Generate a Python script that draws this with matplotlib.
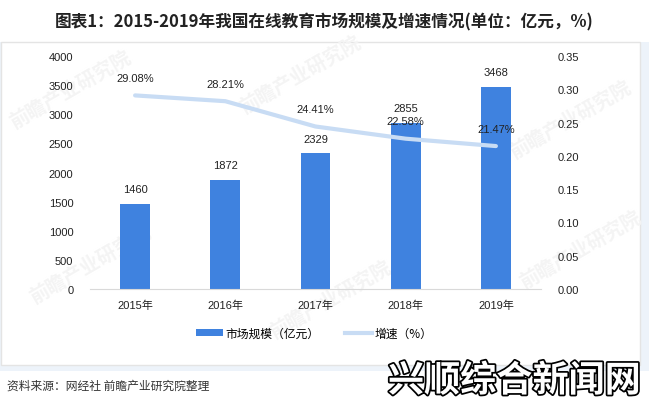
import matplotlib
matplotlib.use("Agg")
import matplotlib.pyplot as plt
from matplotlib.patches import Rectangle, Patch
from matplotlib.lines import Line2D
import matplotlib.patheffects as pe

years = ["2015年", "2016年", "2017年", "2018年", "2019年"]
market_size = [1460, 1872, 2329, 2855, 3468]
growth = [0.2908, 0.2821, 0.2441, 0.2258, 0.2147]
growth_labels = ["29.08%", "28.21%", "24.41%", "22.58%", "21.47%"]
left_ticks = [0, 500, 1000, 1500, 2000, 2500, 3000, 3500, 4000]
right_ticks = [0.00, 0.05, 0.10, 0.15, 0.20, 0.25, 0.30, 0.35]

title = "图表1：2015-2019年我国在线教育市场规模及增速情况(单位：亿元，%)"
source = "资料来源：网经社 前瞻产业研究院整理"
overlay = "兴顺综合新闻网"
bar_name = "市场规模（亿元）"
line_name = "增速（%）"
wm_text = "前瞻产业研究院"

FONT = ["Liberation Sans", "Noto Sans CJK SC", "DejaVu Sans"]
CJK = ["Noto Sans CJK SC", "DejaVu Sans"]
plt.rcParams["font.family"] = FONT

W, H = 649, 406
fig = plt.figure(figsize=(W / 100, H / 100), dpi=100)
fig.patch.set_facecolor("white")

def fx(px):
    return px / W

def fy(py):
    return 1 - py / H

# background bands and panel
fig.patches.append(Rectangle((0, fy(372)), 1, fy(43) - fy(372), transform=fig.transFigure,
                             facecolor="#edf3fa", edgecolor="none", zorder=0))
fig.patches.append(Rectangle((fx(1), fy(366)), fx(640) - fx(1), fy(43) - fy(366),
                             transform=fig.transFigure, facecolor="white",
                             edgecolor="#e4e4e4", linewidth=1, zorder=0.5))

# faint diagonal watermarks
for (x, y) in [(70, 90), (300, 75), (90, 265), (330, 300), (570, 120), (580, 250)]:
    fig.text(fx(x), fy(y), wm_text, family=CJK, fontsize=14, color="#f4f4f4",
             rotation=30, ha="center", va="center", fontweight="bold", zorder=0.6)

ax = fig.add_axes([fx(90), fy(290), fx(541) - fx(90), fy(57) - fy(290)])
ax.set_zorder(2)
ax.set_facecolor("none")
x = list(range(len(years)))
ax.bar(x, market_size, width=0.33, color="#3f82df", zorder=2)
ax.set_xlim(-0.5, len(years) - 0.5)
ax.set_ylim(0, 4000)
ax.set_yticks(left_ticks)
ax.set_yticklabels([str(t) for t in left_ticks])
ax.set_xticks(x)
ax.set_xticklabels(years)
for s in ["top", "left", "right"]:
    ax.spines[s].set_visible(False)
ax.spines["bottom"].set_color("#d9d9d9")
ax.tick_params(axis="both", length=0, labelsize=8, colors="#222222")
ax.tick_params(axis="y", pad=12)
ax.tick_params(axis="x", pad=8)
for xi, v in zip(x, market_size):
    ax.annotate(str(v), (xi, v), xytext=(0, 7), textcoords="offset points",
                ha="center", va="bottom", fontsize=8, color="#222222")

ax2 = ax.twinx()
ax2.set_zorder(3)
ax2.set_facecolor("none")
ax2.set_ylim(0, 0.35)
ax2.set_yticks(right_ticks)
ax2.set_yticklabels(["%.2f" % t for t in right_ticks])
for s in ["top", "left", "right", "bottom"]:
    ax2.spines[s].set_visible(False)
ax2.tick_params(axis="y", length=0, labelsize=8, colors="#222222", pad=12)
ax2.plot(x, growth, color="#c8dcf4", linewidth=3, solid_capstyle="round", zorder=3)
for xi, v, lab in zip(x, growth, growth_labels):
    ax2.annotate(lab, (xi, v), xytext=(0, 9), textcoords="offset points",
                 ha="center", va="bottom", fontsize=8, color="#222222")

fig.text(0.5, fy(22), title, family=CJK, fontsize=12, fontweight="bold",
         ha="center", va="center", color="#222222")

handles = [Patch(facecolor="#3f82df", edgecolor="none"),
           Line2D([0], [0], color="#c8dcf4", linewidth=3)]
fig.legend(handles, [bar_name, line_name], loc="center", bbox_to_anchor=(fx(314), fy(334)),
           ncol=2, frameon=False, prop={"family": CJK, "size": 8.5},
           handlelength=2.3, handleheight=0.6, columnspacing=2.2, handletextpad=0.2)

fig.text(fx(7), fy(386), source, family=CJK, fontsize=8.5, ha="left", va="center",
         color="#333333")

t = fig.text(fx(388), fy(382), overlay, family=CJK, fontsize=26, fontweight="bold",
             ha="left", va="center", color="white")
t.set_path_effects([pe.Stroke(linewidth=2.5, foreground="black"), pe.Normal()])

fig.savefig("out.png", dpi=100)
